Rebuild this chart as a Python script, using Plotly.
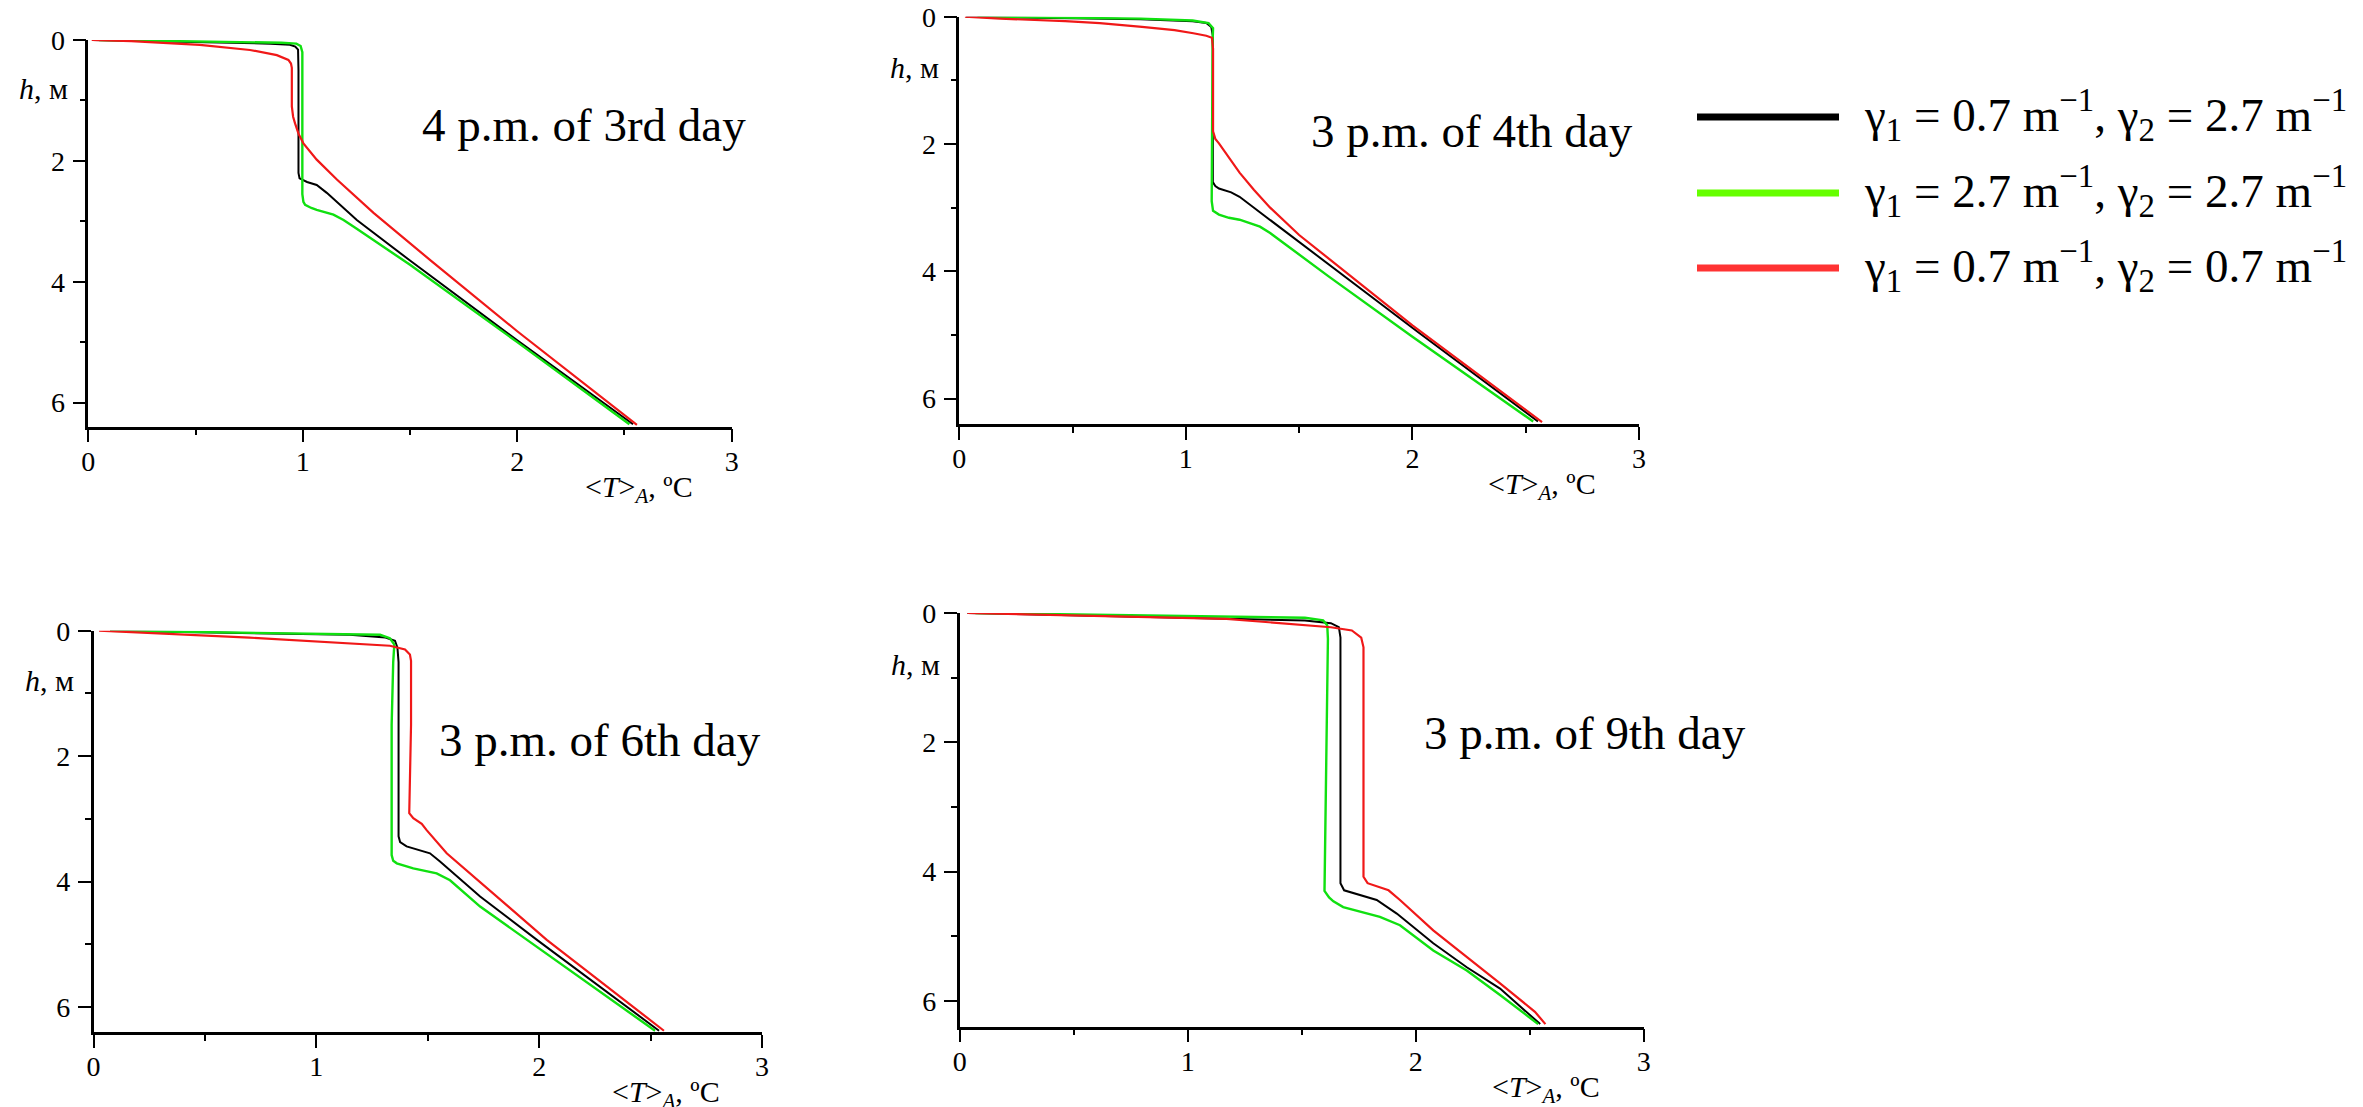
import plotly.graph_objects as go

W, H = 2363, 1107

# ---------------- data (T = <T>_A in degC, h = depth in m) ----------------
titles = ["4 p.m. of 3rd day", "3 p.m. of 4th day", "3 p.m. of 6th day", "3 p.m. of 9th day"]
series_names = ["γ<sub>1</sub> = 0.7 m<sup>−1</sup>, γ<sub>2</sub> = 2.7 m<sup>−1</sup>",
                "γ<sub>1</sub> = 2.7 m<sup>−1</sup>, γ<sub>2</sub> = 2.7 m<sup>−1</sup>",
                "γ<sub>1</sub> = 0.7 m<sup>−1</sup>, γ<sub>2</sub> = 0.7 m<sup>−1</sup>"]

# Panel 1
p1_black_T = [0.02, 0.3, 0.6, 0.85, 0.94, 0.965, 0.978, 0.98, 0.98, 0.985, 1.02, 1.065, 1.112, 1.252, 1.5, 2.0, 2.54]
p1_black_h = [0.0, 0.02, 0.04, 0.06, 0.08, 0.11, 0.16, 0.5, 2.2, 2.29, 2.35, 2.40, 2.53, 2.98, 3.65, 4.97, 6.36]
p1_green_T = [0.05, 0.3, 0.6, 0.9, 0.97, 0.99, 0.998, 0.998, 1.003, 1.011, 1.04, 1.065, 1.143, 1.19, 1.25, 1.5, 2.0, 2.523]
p1_green_h = [0.0, 0.01, 0.025, 0.045, 0.06, 0.1, 0.2, 2.55, 2.68, 2.73, 2.78, 2.81, 2.89, 2.98, 3.12, 3.72, 5.0, 6.36]
p1_red_T = [0.016, 0.2, 0.52, 0.754, 0.879, 0.933, 0.945, 0.949, 0.949, 0.955, 0.964, 0.98, 1.003, 1.065, 1.159, 1.33, 1.6, 2.0, 2.558]
p1_red_h = [0.0, 0.02, 0.08, 0.165, 0.25, 0.33, 0.39, 0.46, 1.10, 1.27, 1.38, 1.55, 1.71, 1.98, 2.31, 2.86, 3.66, 4.82, 6.37]

# Panel 2
p2_black_T = [0.03, 0.4, 0.8, 1.03, 1.09, 1.112, 1.119, 1.119, 1.13, 1.146, 1.2, 1.237, 1.304, 1.674, 2.03, 2.554]
p2_black_h = [0.0, 0.02, 0.04, 0.07, 0.1, 0.16, 0.3, 2.6, 2.66, 2.70, 2.76, 2.83, 3.01, 4.0, 4.97, 6.36]
p2_green_T = [0.08, 0.4, 0.8, 1.03, 1.1, 1.12, 1.118, 1.114, 1.12, 1.146, 1.19, 1.237, 1.327, 1.372, 1.63, 2.0, 2.533]
p2_green_h = [0.0, 0.01, 0.03, 0.06, 0.1, 0.18, 0.4, 2.9, 3.05, 3.11, 3.16, 3.19, 3.30, 3.40, 4.08, 5.03, 6.36]
p2_red_T = [0.025, 0.18, 0.467, 0.62, 0.806, 0.95, 1.033, 1.09, 1.115, 1.12, 1.12, 1.13, 1.146, 1.19, 1.237, 1.3, 1.372, 1.5, 1.72, 2.0, 2.572]
p2_red_h = [0.0, 0.03, 0.07, 0.10, 0.16, 0.21, 0.26, 0.30, 0.33, 0.5, 1.80, 1.92, 1.99, 2.22, 2.45, 2.72, 3.0, 3.43, 4.05, 4.85, 6.37]

# Panel 3
p3_black_T = [0.074, 0.6, 1.15, 1.31, 1.353, 1.364, 1.369, 1.369, 1.376, 1.405, 1.435, 1.51, 1.555, 1.735, 1.99, 2.538]
p3_black_h = [0.0, 0.03, 0.065, 0.11, 0.16, 0.27, 0.5, 3.28, 3.37, 3.44, 3.47, 3.55, 3.68, 4.24, 4.93, 6.38]
p3_green_T = [0.074, 0.7, 1.286, 1.33, 1.35, 1.345, 1.338, 1.338, 1.345, 1.361, 1.435, 1.54, 1.60, 1.735, 1.944, 2.52]
p3_green_h = [0.0, 0.03, 0.065, 0.12, 0.22, 0.5, 1.5, 3.58, 3.67, 3.71, 3.79, 3.87, 3.98, 4.40, 4.93, 6.38]
p3_red_T = [0.025, 0.7, 1.33, 1.398, 1.42, 1.425, 1.425, 1.417, 1.435, 1.473, 1.495, 1.585, 2.034, 2.56]
p3_red_h = [0.0, 0.11, 0.24, 0.30, 0.38, 0.48, 1.5, 2.91, 2.99, 3.08, 3.18, 3.55, 4.93, 6.38]

# Panel 4
p4_black_T = [0.034, 0.8, 1.514, 1.628, 1.663, 1.67, 1.67, 1.686, 1.766, 1.829, 1.917, 2.077, 2.224, 2.37, 2.546]
p4_black_h = [0.0, 0.06, 0.115, 0.157, 0.22, 0.38, 4.18, 4.29, 4.37, 4.44, 4.65, 5.11, 5.48, 5.81, 6.36]
p4_green_T = [0.069, 0.8, 1.514, 1.594, 1.612, 1.615, 1.60, 1.62, 1.639, 1.682, 1.843, 1.931, 2.077, 2.224, 2.37, 2.537]
p4_green_h = [0.0, 0.04, 0.073, 0.115, 0.19, 0.4, 4.30, 4.40, 4.46, 4.55, 4.70, 4.83, 5.22, 5.53, 5.91, 6.36]
p4_red_T = [0.034, 0.6, 1.17, 1.628, 1.72, 1.761, 1.771, 1.771, 1.789, 1.881, 1.931, 2.077, 2.224, 2.37, 2.523, 2.569]
p4_red_h = [0.0, 0.04, 0.09, 0.22, 0.27, 0.38, 0.53, 4.08, 4.18, 4.29, 4.44, 4.91, 5.32, 5.73, 6.17, 6.36]

x_ticks = [0, 1, 2, 3]
y_ticks = [0, 2, 4, 6]

panels = [
    [(p1_black_T, p1_black_h), (p1_green_T, p1_green_h), (p1_red_T, p1_red_h)],
    [(p2_black_T, p2_black_h), (p2_green_T, p2_green_h), (p2_red_T, p2_red_h)],
    [(p3_black_T, p3_black_h), (p3_green_T, p3_green_h), (p3_red_T, p3_red_h)],
    [(p4_black_T, p4_black_h), (p4_green_T, p4_green_h), (p4_red_T, p4_red_h)],
]

# ---------------- styling / layout (pixels) ----------------
curve_colors = ["#000000", "#10e010", "#f01818"]
curve_widths = [2.0, 2.4, 2.2]
legend_colors = ["#000000", "#66ff00", "#ff3333"]

# (left, right, top, bottom) of each plotting area in pixels
boxes = [(88.3, 731.7, 40, 426.7), (959.3, 1639, 16.7, 424),
         (93.5, 762, 630.7, 1032), (959.7, 1643.7, 613, 1026.7)]
title_pos = [(420, 119), (1309, 125), (437, 734), (1422, 727)]

def px(x):
    return x / W

def py(y):
    return 1 - y / H

FONT = "Liberation Serif, Times New Roman, serif"
TICKFONT = dict(family=FONT, size=28, color="black")

fig = go.Figure()
layout = dict(width=W, height=H, margin=dict(l=0, r=0, t=0, b=0, pad=0),
              font=dict(family=FONT, size=28, color="black"),
              paper_bgcolor="white", plot_bgcolor="white", showlegend=False)
annotations = []
shapes = []

for i, curves in enumerate(panels):
    n = "" if i == 0 else str(i + 1)
    xa, ya = "x" + n, "y" + n
    for (T, h), c, w in zip(curves, curve_colors, curve_widths):
        fig.add_trace(go.Scatter(x=T, y=h, mode="lines", xaxis=xa, yaxis=ya,
                                 line=dict(color=c, width=w), hoverinfo="skip"))
    l, r, t, b = boxes[i]
    layout["xaxis" + n] = dict(showgrid=False, zeroline=False, showline=True,
                               linecolor="black", linewidth=2.5, ticks="outside",
                               ticklen=13, tickwidth=2, tickcolor="black",
                               automargin=False, tickfont=TICKFONT,
                               domain=[px(l), px(r)], range=[0, 3],
                               anchor=ya, tickvals=x_ticks, ticklabelstandoff=-5,
                               minor=dict(dtick=0.5, tick0=0, ticklen=6, tickwidth=2,
                                          tickcolor="black", ticks="outside"))
    layout["yaxis" + n] = dict(showgrid=False, zeroline=False, showline=True,
                               linecolor="black", linewidth=2.5, ticks="outside",
                               ticklen=13, tickwidth=2, tickcolor="black",
                               automargin=False, tickfont=TICKFONT,
                               domain=[py(b), py(t)], range=[6.4, 0],
                               anchor=xa, tickvals=y_ticks, ticklabelstandoff=2,
                               minor=dict(dtick=1, tick0=0, ticklen=6, tickwidth=2,
                                          tickcolor="black", ticks="outside"))
    # y axis label
    annotations.append(dict(xref="paper", yref=ya, x=px(l - 18), y=0.8,
                            xanchor="right", yanchor="middle", showarrow=False,
                            text="<i>h</i>, м",
                            font=dict(family=FONT, size=30, color="black")))
    # x axis label
    annotations.append(dict(xref=xa, yref="paper", x=2.57, y=py(b + 62),
                            xanchor="center", yanchor="middle", showarrow=False,
                            text="&lt;<i>T</i>&gt;<sub><i>A</i></sub>, ºC",
                            font=dict(family=FONT, size=30, color="black")))
    # panel title
    tx, ty = title_pos[i]
    annotations.append(dict(xref="paper", yref="paper", x=px(tx), y=py(ty + 6),
                            xanchor="left", yanchor="middle", showarrow=False,
                            text=titles[i],
                            font=dict(family=FONT, size=47, color="black")))

# manual legend
legend_y = [117, 193, 268]
for name, c, ly in zip(series_names, legend_colors, legend_y):
    shapes.append(dict(type="line", xref="paper", yref="paper",
                       x0=px(1697), x1=px(1839), y0=py(ly), y1=py(ly),
                       line=dict(color=c, width=7)))
    annotations.append(dict(xref="paper", yref="paper", x=px(1862), y=py(ly - 2),
                            xanchor="left", yanchor="middle", showarrow=False,
                            text=name, font=dict(family=FONT, size=47, color="black")))

layout["annotations"] = annotations
layout["shapes"] = shapes
fig.update_layout(**layout)
fig.write_html("out.html")
